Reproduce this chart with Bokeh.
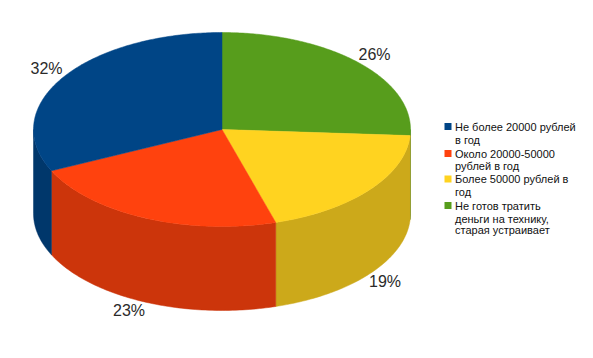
import numpy as np
from bokeh.plotting import figure
from bokeh.models import Range1d
from bokeh.core.properties import value
from bokeh.embed import file_html
from bokeh.resources import INLINE

# data, clockwise from 12 o'clock
shares = [26.0, 19.4, 22.6, 32.0]
top_colors = ["#579d1c", "#ffd320", "#ff420e", "#004586"]
side_colors = ["#467e16", "#cca91a", "#cc350b", "#00376b"]

legend_colors = ["#004586", "#ff420e", "#ffd320", "#579d1c"]
legend_lines = [
    ["Не более 20000 рублей", "в год"],
    ["Около 20000-50000", "рублей в год"],
    ["Более 50000 рублей в", "год"],
    ["Не готов тратить", "деньги на технику,", "старая устраивает"],
]

# layout (page pixel space)
CX, CY, RX, RY, DEPTH = 221.5, 129.0, 188.5, 97.0, 84.0
label_xy = [(374, 54), (384.5, 281), (128.5, 310), (46, 68)]
legend_text_x, legend_swatch_x = 454.5, 447.5
legend_line_y = [[126, 139], [153, 165.5], [178.5, 191.5], [205, 218, 229.5]]

p = figure(width=585, height=350, output_backend="svg", toolbar_location=None,
           x_range=Range1d(0, 585), y_range=Range1d(350, 0),
           min_border=0, outline_line_color=None, background_fill_color="white")
p.axis.visible = False
p.grid.visible = False


def ell(deg):
    t = np.radians(deg)
    return CX + RX * np.sin(t), CY - RY * np.cos(t)


edges = np.concatenate([[0], np.cumsum(shares)]) / sum(shares) * 360

# side walls: only the front half (90..270 degrees) is visible
for a, b, col in zip(edges[:-1], edges[1:], side_colors):
    lo, hi = max(a, 90), min(b, 270)
    if hi <= lo:
        continue
    x, y = ell(np.linspace(lo, hi, 80))
    xs = np.concatenate([x, x[::-1]])
    ys = np.concatenate([y, (y + DEPTH)[::-1]])
    p.patch(xs, ys, fill_color=col, line_color=col, line_width=0.5)

# top face
for a, b, col in zip(edges[:-1], edges[1:], top_colors):
    x, y = ell(np.linspace(a, b, 160))
    p.patch(np.concatenate([[CX], x]), np.concatenate([[CY], y]),
            fill_color=col, line_color=col, line_width=0.5)

# percentage labels
p.text([q[0] for q in label_xy], [q[1] for q in label_xy],
       text=[f"{round(v)}%" for v in shares],
       text_font=value("Liberation Sans"), text_font_size="16px",
       text_color="#2a2a2a", text_align="center", text_baseline="middle")

# legend
for col, lines, ys in zip(legend_colors, legend_lines, legend_line_y):
    p.rect([legend_swatch_x], [ys[0]], width=7, height=7,
           fill_color=col, line_color=None)
    p.text([legend_text_x] * len(lines), ys, text=lines,
           text_font=value("Liberation Sans"), text_font_size="11px",
           text_color="#111111", text_align="left", text_baseline="middle")

open("out.html", "w").write(file_html(p, INLINE))
